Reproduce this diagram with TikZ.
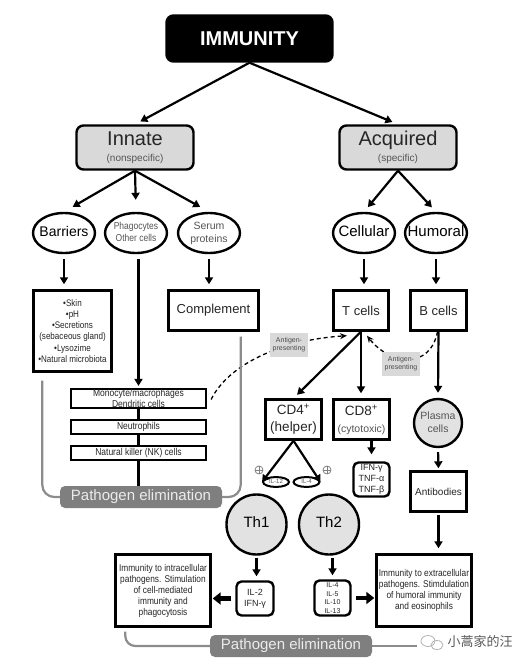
\documentclass[tikz,border=0pt]{standalone}
\usepackage{fontspec}
\setmainfont{Liberation Sans}
\newfontfamily\narrowf[FakeStretch=0.85]{Liberation Sans}
\newfontfamily\cjkf{Noto Sans CJK SC}
\usetikzlibrary{arrows.meta,shapes.geometric}
\newcommand\fsz[2]{\fontsize{#1}{#2}\selectfont}
\newcommand\zw[1]{\makebox[0pt]{\begin{tabular}{@{}c@{}}#1\end{tabular}}}
\definecolor{boxgray}{HTML}{D9D9D9}
\definecolor{circgray}{HTML}{E2E2E2}
\definecolor{pegray}{HTML}{7F7F7F}
\definecolor{subtext}{HTML}{555555}
\definecolor{brkgray}{HTML}{8C8C8C}
\tikzset{
  bx/.style={draw, line width=2.4pt, fill=white, inner sep=0pt, align=center, text=black!85},
  topbox/.style={bx, fill=black, rounded corners=7pt, text=white, font=\fsz{20}{22}\bfseries, minimum width=166pt, minimum height=46pt},
  midbox/.style={bx, fill=boxgray, rounded corners=7pt, minimum width=117pt, minimum height=44pt, font=\fsz{20}{22}},
  ov/.style={draw, ellipse, line width=2.4pt, fill=white, inner sep=0pt, minimum width=62pt, minimum height=40pt, align=center},
  rbx/.style={bx, rounded corners=5pt},
  rowbox/.style={bx, line width=2.2pt, minimum width=135pt, font=\narrowf\fsz{10}{10.5}},
  pebox/.style={fill=pegray, rounded corners=5pt, text=white!92!black, font=\fsz{15}{17}, minimum width=162pt, minimum height=22pt, inner sep=0pt},
  agbox/.style={fill=boxgray, text=black!70, font=\fsz{7}{8.5}, align=center, minimum width=38pt, minimum height=24pt, inner sep=0pt},
  thcirc/.style={draw, circle, line width=2.4pt, fill=circgray, inner sep=0pt, minimum size=60pt, font=\fsz{15}{17}, align=center},
  ilell/.style={draw, ellipse, line width=2pt, fill=white, minimum width=26pt, minimum height=9pt, inner sep=0pt, font=\fsz{6}{7}, text=subtext},
  pluscirc/.style={draw=gray, circle, line width=0.8pt, minimum size=8pt, inner sep=0pt},
  arr/.style={line width=2.2pt, -{Triangle[length=7pt,width=8pt]}},
  fat/.style={line width=4.5pt, -{Triangle[length=8pt,width=12pt]}},
  dsh/.style={line width=1.3pt, dash pattern=on 4pt off 3pt, -{Stealth[length=7pt,width=6pt]}},
  brk/.style={draw=brkgray, line width=2.2pt, rounded corners=12pt},
}
\begin{document}
\begin{tikzpicture}[x=1pt,y=-1pt]
\useasboundingbox (0,0) rectangle (529,665);

% top levels
\node[topbox] (imm) at (249.5,38.5) {IMMUNITY};
\node[midbox] (innate) at (135,147.5) {Innate\\[-6pt]{\fsz{10}{12}\color{subtext}(nonspecific)}};
\node[midbox] (acq) at (398,147.5) {Acquired\\[-6pt]{\fsz{10}{12}\color{subtext}(specific)}};

% ellipses
\node[ov, font=\fsz{14}{16}] (barr) at (64,233) {\zw{Barriers}};
\node[ov, font=\narrowf\fsz{10}{12}, text=subtext] (phag) at (136,233) {\zw{Phagocytes\\Other cells}};
\node[ov, font=\fsz{10.5}{13}, text=subtext] (serum) at (209,233) {\zw{Serum\\proteins}};
\node[ov, font=\fsz{15}{17}] (cell) at (364,233) {\zw{Cellular}};
\node[ov, font=\fsz{15}{17}] (hum) at (436,233) {\zw{Humoral}};

% second row boxes
\node[bx, minimum width=78pt, minimum height=81pt, font=\narrowf\fsz{9.5}{11.1}] (skin) at (72.5,331) {•Skin\\•pH\\•Secretions\\(sebaceous gland)\\•Lysozime\\•Natural microbiota};
\node[bx, minimum width=90pt, minimum height=40pt, font=\fsz{13}{15}] (compl) at (213.5,310.5) {Complement};
\node[bx, minimum width=55pt, minimum height=40pt, font=\fsz{13}{15}] (tcells) at (361,310.5) {T cells};
\node[bx, minimum width=56pt, minimum height=40pt, font=\fsz{13}{15}] (bcells) at (438.5,310.5) {B cells};

% innate cells
\node[rowbox, minimum height=19pt] (mono) at (138.5,398.5) {Monocyte/macrophages\\Dendritic cells};
\node[rowbox, minimum height=14pt] (neut) at (138.5,427) {Neutrophils};
\node[rowbox, minimum height=14pt] (nk) at (138.5,453) {Natural killer (NK) cells};
\node[pebox] (pe1) at (141,497) {Pathogen elimination};

% T / B branches
\node[bx, minimum width=56pt, minimum height=40pt, font=\fsz{13.5}{17}] (cd4) at (293.5,419.5) {CD4\textsuperscript{+}\\(helper)};
\node[bx, minimum width=56pt, minimum height=40pt, font=\fsz{13.5}{17}] (cd8) at (361.5,419.5) {CD8\textsuperscript{+}\\{\fsz{10.5}{13}\color{subtext}(cytotoxic)}};
\node[thcirc, minimum size=48pt, font=\fsz{10.5}{13}, text=subtext] (plasma) at (438,423) {\zw{Plasma\\cells}};
\node[bx, minimum width=56pt, minimum height=40pt, font=\fsz{10}{12}] (antib) at (438.5,491.5) {Antibodies};
\node[rbx, minimum width=36pt, minimum height=34pt, font=\fsz{9}{11}] (ifn) at (371.5,479.5) {IFN-γ\\TNF-α\\TNF-β};

\node[ilell] (il12) at (276,482) {\zw{IL-12}};
\node[ilell] (il4e) at (306.5,482) {\zw{IL-4}};
\node[pluscirc] (pl1) at (259,470) {};
\node[pluscirc] (pl2) at (327,470) {};
\draw[gray, line width=0.8pt] (pl1.north) -- (pl1.south) (pl1.west) -- (pl1.east);
\draw[gray, line width=0.8pt] (pl2.north) -- (pl2.south) (pl2.west) -- (pl2.east);

\node[thcirc] (th1) at (256.5,524.5) {\zw{Th1}};
\node[thcirc] (th2) at (329,524.5) {\zw{Th2}};
\node[rbx, minimum width=37pt, minimum height=34pt, font=\fsz{9}{11}] (il2) at (255,598.5) {IL-2\\IFN-γ};
\node[rbx, minimum width=36pt, minimum height=35pt, font=\fsz{7}{8.6}] (il4b) at (332.5,598) {IL-4\\IL-5\\IL-10\\IL-13};
\node[bx, minimum width=95pt, minimum height=72pt, font=\narrowf\fsz{9.8}{11}] (intra) at (163,590.5) {Immunity to intracellular\\pathogens. Stimulation\\of cell-mediated\\immunity and\\phagocytosis};
\node[bx, minimum width=95pt, minimum height=72pt, font=\narrowf\fsz{9.8}{11}] (extra) at (424,590.5) {Immunity to extracellular\\pathogens. Stimdulation\\of humoral immunity\\and eosinophils};
\node[pebox] (pe2) at (291,646) {Pathogen elimination};

% main connectors
\draw[arr, shorten >=6pt] (imm.south) -- (innate.north);
\draw[arr, shorten >=6pt] (imm.south) -- (acq.north);
\draw[arr, shorten >=10pt] (innate.south) -- (barr.north);
\draw[arr, shorten >=12pt] (innate.south) -- (phag.north);
\draw[arr, shorten >=10pt] (innate.south) -- (serum.north);
\draw[arr, shorten >=6pt] (acq.south) -- (cell.north);
\draw[arr, shorten >=6pt] (acq.south) -- (hum.north);

\draw[arr, shorten <=5pt, shorten >=5pt] (barr.south) -- (barr.south |- skin.north);
\draw[arr, shorten <=5pt, shorten >=5pt] (serum.south) -- (serum.south |- compl.north);
\draw[arr, shorten <=5pt, shorten >=5pt] (cell.south) -- (cell.south |- tcells.north);
\draw[arr, shorten <=5pt, shorten >=5pt] (hum.south) -- (hum.south |- bcells.north);

\draw[arr, shorten <=5pt, shorten >=2pt] (phag.south -| mono.north) -- (mono.north);
\draw[line width=2.2pt] (mono.south) -- (neut.north);
\draw[line width=2.2pt] (neut.south) -- (nk.north);
\draw[line width=2.2pt] (nk.south) -- (nk.south |- pe1.north);

\draw[arr, shorten >=5pt] (tcells.south) -- (cd4.north);
\draw[arr, shorten >=5pt] (tcells.south) -- (tcells.south |- cd8.north);
\draw[arr, shorten >=5pt] (bcells.south) -- (plasma.north);
\draw[arr, shorten <=4pt, shorten >=2pt] (plasma.south) -- (antib.north);
\draw[arr, shorten >=7pt] (cd8.south -| ifn.north) -- (ifn.north);
\draw[arr] (cd4.south) -- (il12.west);
\draw[arr] (cd4.south) -- (il4e.east);
\draw[arr, shorten <=2pt, shorten >=4pt] (th1.south) -- (th1.south |- il2.north);
\draw[arr, shorten <=2pt, shorten >=4pt] (th2.south -| il4b.north) -- (il4b.north);
\draw[arr, shorten <=2pt, shorten >=5pt] (antib.south) -- (antib.south |- extra.north);
\draw[fat, shorten <=4pt, shorten >=1pt] (il2.west) -- (il2.west -| intra.east);
\draw[fat, shorten <=4pt, shorten >=1pt] (il4b.east) -- (il4b.east -| extra.west);

% dashed antigen-presenting connectors
\draw[dsh] ([xshift=4pt,yshift=-1pt]mono.east) .. controls (228,365) and (280,340) .. ([xshift=-14pt,yshift=-4pt]tcells.south);
\draw[dsh] ([xshift=-1pt]bcells.south) .. controls (430,370) and (390,365) .. ([xshift=6pt,yshift=-4pt]tcells.south);
\node[agbox] (ag1) at (289,344.5) {Antigen-\\presenting};
\node[agbox] (ag2) at (401,363.5) {Antigen-\\presenting};

% grey brackets
\coordinate (lb) at ([xshift=10pt,yshift=-8pt]skin.south west);
\draw[brk] (lb) -- (lb |- pe1.west) -- (pe1.west);
\coordinate (rb) at ([xshift=-19pt,yshift=-5pt]compl.south east);
\draw[brk] (rb) -- (rb |- pe1.east) -- (pe1.east);
\coordinate (lb2) at ([xshift=11pt,yshift=-4pt]intra.south west);
\draw[brk, rounded corners=10pt] (lb2) -- (lb2 |- pe2.west) -- (pe2.west);
\coordinate (rb2) at ([xshift=45pt]pe2.east);
\draw[brk] (pe2.east) -- (rb2);

% watermark
\draw[gray!60, line width=0.8pt] (428,641) ellipse (7 and 5.5);
\draw[gray!60, line width=0.8pt] (437,645) ellipse (6 and 4.5);
\node[font=\cjkf\fsz{13}{15}, text=black!65, inner sep=0pt] (wm) at (480,642) {小蒿家的汪};
\end{tikzpicture}
\end{document}
